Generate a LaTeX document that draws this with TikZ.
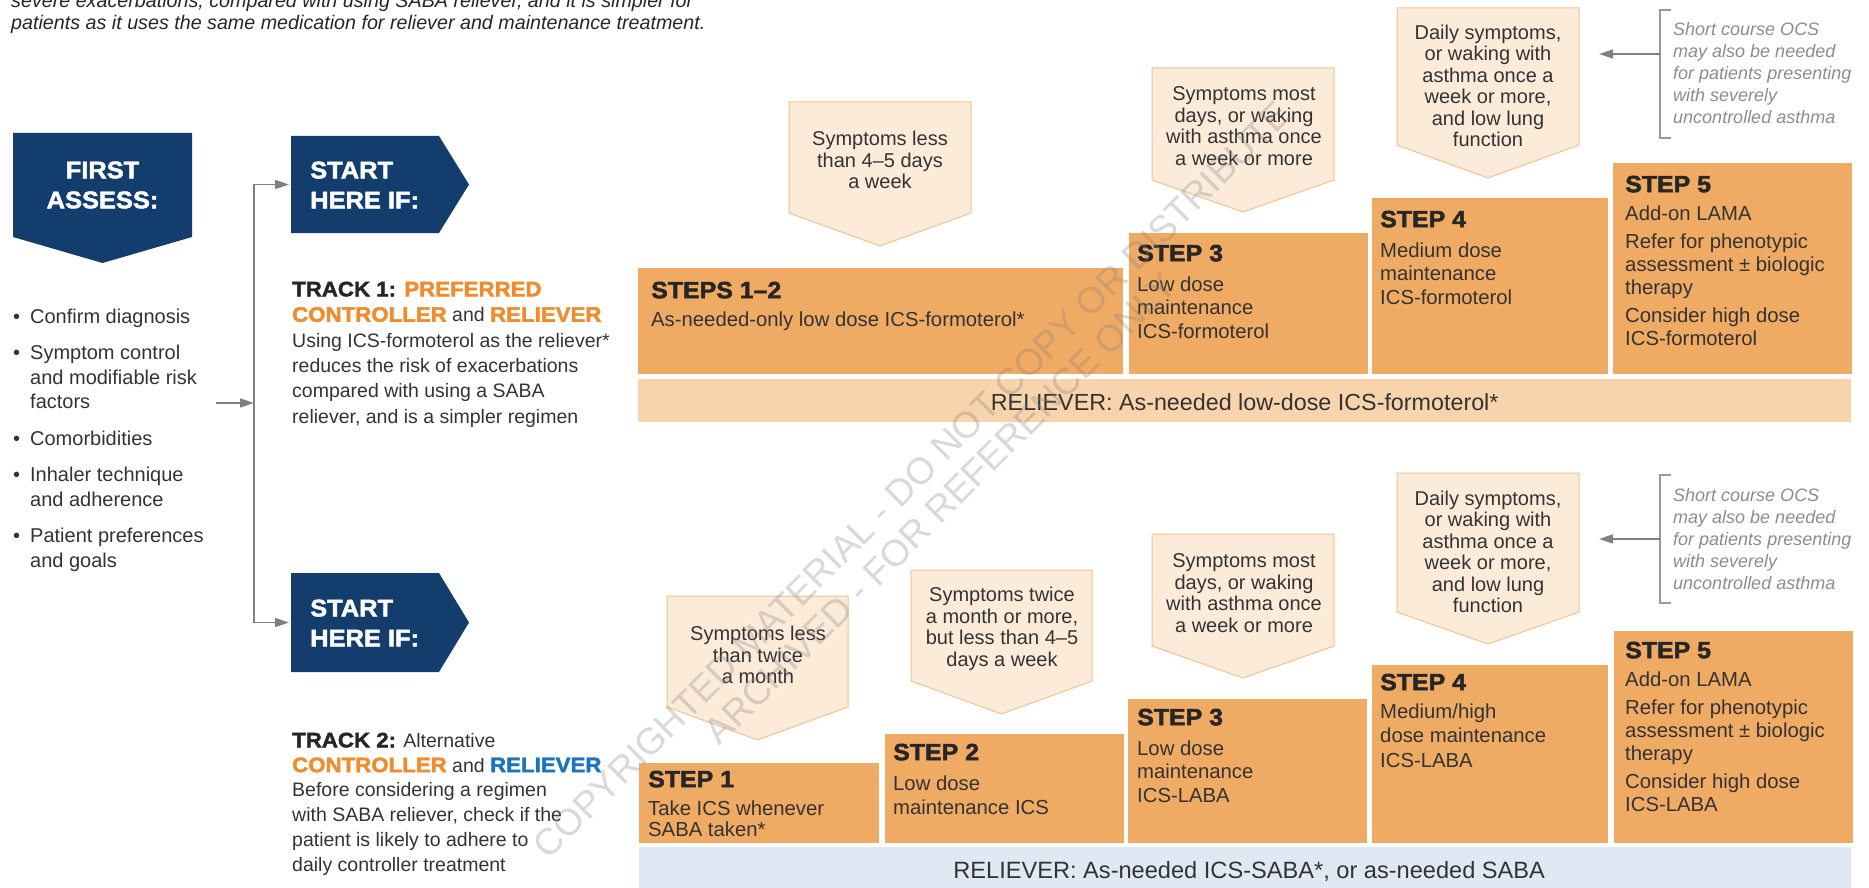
\documentclass[tikz,border=0pt]{standalone}
\usepackage{fontspec}
\setmainfont{Liberation Sans}
\newfontfamily\heavy{Liberation Sans}[UprightFont=* Bold, FakeStretch=1.06, FakeBold=2]
\usetikzlibrary{positioning}
\usetikzlibrary{arrows.meta}

\definecolor{navyblue}{HTML}{133D6D}
\definecolor{stepfill}{HTML}{EFAA63}
\definecolor{symfill}{HTML}{FDEBDA}
\definecolor{symedge}{HTML}{F2C28E}
\definecolor{relieverone}{HTML}{F8D4AC}
\definecolor{relievertwo}{HTML}{DEE9F4}
\definecolor{trackorange}{HTML}{EE8C2E}
\definecolor{trackblue}{HTML}{1C75BC}
\definecolor{bodytext}{HTML}{333333}
\definecolor{headtext}{HTML}{262626}
\definecolor{notegray}{HTML}{8C8C8C}
\definecolor{arrowgray}{HTML}{808080}

\tikzset{stepbox/.style={rectangle,fill=stepfill,inner sep=0pt,anchor=north west}}
\tikzset{steptitle/.style={anchor=north west,inner sep=0pt,text=headtext,
font=\heavy\fontsize{23.5}{28}\selectfont}}
\tikzset{steptext/.style={anchor=north west,inner sep=0pt,align=left,text=bodytext,
font=\fontsize{20.3}{23.5}\selectfont}}
\tikzset{symtext/.style={align=center,inner sep=0pt,text=bodytext,
font=\fontsize{20}{21.5}\selectfont}}
\tikzset{sympoly/.style={fill=symfill,draw=symedge,line width=1pt}}
\tikzset{relbar/.style={rectangle,inner sep=0pt,anchor=north west}}
\tikzset{reltext/.style={inner sep=0pt,text=bodytext,font=\fontsize{23.3}{26}\selectfont}}
\tikzset{navyhead/.style={inner sep=0pt,text=white,align=left,
font=\heavy\fontsize{24}{30}\selectfont}}
\tikzset{tracktext/.style={anchor=north west,inner sep=0pt,align=left,text=bodytext,
font=\fontsize{19.5}{25.4}\selectfont}}
\tikzset{listtext/.style={anchor=north west,inner sep=0pt,align=left,text=bodytext,
font=\fontsize{20}{24.5}\selectfont}}
\tikzset{notetext/.style={anchor=north west,inner sep=0pt,align=left,text=notegray,
font=\itshape\fontsize{18}{22}\selectfont}}
\tikzset{intro/.style={anchor=base west,inner sep=0pt,text=headtext,
font=\itshape\fontsize{19.7}{22}\selectfont}}
\tikzset{flow/.style={draw=arrowgray,line width=1.6pt,-{Triangle[length=14pt,width=9pt]}}}
\tikzset{bracket/.style={draw=arrowgray!80,line width=1.2pt}}
\tikzset{watermark/.style={align=center,inner sep=0pt,text=gray,text opacity=0.3,
font=\fontsize{37}{40}\selectfont}}

\newcommand{\symshape}[5]{\filldraw[sympoly] (#1,#3) -- (#2,#3) -- (#2,#4) -- ({(#1+#2)/2},#5) -- (#1,#4) -- cycle;}
\newcommand{\chkitem}{\makebox[17pt][l]{\textbullet}}
\newcommand{\chkindent}{\hspace*{17pt}}
\newcommand{\trackhead}[1]{{\heavy\fontsize{21}{25.4}\selectfont #1}}

\begin{document}
\begin{tikzpicture}[x=1pt,y=-1pt]
\useasboundingbox (0,0) rectangle (1869,888);

% note text above, cut at the top edge
\node[intro] (intro1) at (11,8) {severe exacerbations, compared with using SABA reliever, and it is simpler for};
\node[intro] (intro2) at (11,30) {patients as it uses the same medication for reliever and maintenance treatment.};

% first assess
\fill[navyblue] (13,133) -- (192,133) -- (192,237) -- (102.5,263) -- (13,237) -- cycle;
\node[navyhead,align=center] (assess) at (102.5,185) {FIRST\\ASSESS:};
\node[listtext] (checks) at (13,308.5) {\chkitem Confirm diagnosis\\[12pt]
\chkitem Symptom control\\
\chkindent and modifiable risk\\
\chkindent factors\\[12pt]
\chkitem Comorbidities\\[12pt]
\chkitem Inhaler technique\\
\chkindent and adherence\\[12pt]
\chkitem Patient preferences\\
\chkindent and goals};

% start here boxes
\fill[navyblue] (291,136) -- (439,136) -- (469,184.5) -- (439,233) -- (291,233) -- cycle;
\node[navyhead,anchor=west] (start1) at (310,185) {START\\HERE IF:};
\fill[navyblue] (291,573) -- (439,573) -- (469,622.5) -- (439,672) -- (291,672) -- cycle;
\node[navyhead,anchor=west] (start2) at (310,623) {START\\HERE IF:};

\coordinate (split) at (254,403);
\coordinate (start1in) at (289,184.5);
\coordinate (start2in) at (289,622.5);
\draw[flow,shorten <=12pt] (checks.east |- split) -- (split);
\draw[flow] (split) |- (start1in);
\draw[flow] (split) |- (start2in);

% track descriptions
\node[tracktext] (track1) at (292,281.5) {\trackhead{\color{headtext}TRACK 1: \color{trackorange}PREFERRED}\\
\trackhead{\color{trackorange}CONTROLLER} and \trackhead{\color{trackorange}RELIEVER}\\
Using ICS-formoterol as the reliever*\\
reduces the risk of exacerbations\\
compared with using a SABA\\
reliever, and is a simpler regimen};
\node[tracktext,font=\fontsize{19.5}{24.8}\selectfont] (track2) at (292,732.5) {\trackhead{\color{headtext}TRACK 2:} Alternative\\
\trackhead{\color{trackorange}CONTROLLER} and \trackhead{\color{trackblue}RELIEVER}\\
Before considering a regimen\\
with SABA reliever, check if the\\
patient is likely to adhere to\\
daily controller treatment};

% symptom arrows, track 1
\symshape{789}{971}{102}{213}{246}
\node[symtext] (sym12) at (880,160) {Symptoms less\\than 4–5 days\\a week};
\symshape{1152}{1334}{68}{180}{212}
\node[symtext] (sym3) at (1244,126) {Symptoms most\\days, or waking\\with asthma once\\a week or more};
\symshape{1397}{1579}{8}{145}{178}
\node[symtext] (sym4) at (1488,86) {Daily symptoms,\\or waking with\\asthma once a\\week or more,\\and low lung\\function};

% steps, track 1
\node[stepbox,minimum width=485pt,minimum height=106pt] (steps12) at (638,268) {};
\node[stepbox,anchor=south west,minimum width=239pt,minimum height=141pt] (step3) at ([xshift=5pt]steps12.south east) {};
\node[stepbox,anchor=south west,minimum width=236pt,minimum height=176pt] (step4) at ([xshift=4pt]step3.south east) {};
\node[stepbox,anchor=south west,minimum width=239pt,minimum height=211pt] (step5) at ([xshift=5pt]step4.south east) {};

\node[steptitle] (steps12t) at (651,281.6) {STEPS 1–2};
\node[steptext] (steps12b) at (651,311.5) {As-needed-only low dose ICS-formoterol*};
\node[steptitle] (step3t) at (1137,244.6) {STEP 3};
\node[steptext] (step3b) at (1137,276.5) {Low dose\\maintenance\\ICS-formoterol};
\node[steptitle] (step4t) at (1380,210.6) {STEP 4};
\node[steptext] (step4b) at (1380,242.5) {Medium dose\\maintenance\\ICS-formoterol};
\node[steptitle] (step5t) at (1625,175.6) {STEP 5};
\node[steptext,font=\fontsize{20.3}{23}\selectfont] (step5b) at (1625,205.5) {Add-on LAMA\\[5pt]
Refer for phenotypic\\assessment ± biologic\\therapy\\[5pt]
Consider high dose\\ICS-formoterol};

\node[relbar,fill=relieverone,minimum width=1213pt,minimum height=43pt] (rel1) at (638,379) {};
\node[reltext] (rel1t) at ([yshift=-1.5pt]rel1.center) {RELIEVER: As-needed low-dose ICS-formoterol*};

% short course note, track 1
\draw[bracket] (1671,10) -- (1660,10) -- (1660,138) -- (1671,138);
\node[notetext] (note1) at (1673,22.5) {Short course OCS\\may also be needed\\for patients presenting\\with severely\\uncontrolled asthma};
\coordinate (note1out) at (1660,54);
\coordinate (note1tip) at (1599,54);
\draw[flow] (note1out) -- (note1tip);

% symptom arrows, track 2
\symshape{667}{848}{596}{707}{740}
\node[symtext] (symB1) at (758,655) {Symptoms less\\than twice\\a month};
\symshape{911}{1092}{570}{681}{714}
\node[symtext] (symB2) at (1002,629) {Symptoms twice\\a month or more,\\but less than 4–5\\days a week};
\symshape{1152}{1334}{534}{646}{678}
\node[symtext] (symB3) at (1244,593) {Symptoms most\\days, or waking\\with asthma once\\a week or more};
\symshape{1397}{1579}{473}{612}{644}
\node[symtext] (symB4) at (1488,552) {Daily symptoms,\\or waking with\\asthma once a\\week or more,\\and low lung\\function};

% steps, track 2
\node[stepbox,minimum width=240pt,minimum height=80pt] (stepB1) at (639,763) {};
\node[stepbox,anchor=south west,minimum width=239pt,minimum height=109pt] (stepB2) at ([xshift=5pt]stepB1.south east) {};
\node[stepbox,anchor=south west,minimum width=239pt,minimum height=144pt] (stepB3) at ([xshift=4pt]stepB2.south east) {};
\node[stepbox,anchor=south west,minimum width=236pt,minimum height=178pt] (stepB4) at ([xshift=5pt]stepB3.south east) {};
\node[stepbox,anchor=south west,minimum width=239pt,minimum height=212pt] (stepB5) at ([xshift=5pt]stepB4.south east) {};

\node[steptitle] (stepB1t) at (648,770.6) {STEP 1};
\node[steptext,font=\fontsize{20.3}{21}\selectfont] (stepB1b) at (648,800.5) {Take ICS whenever\\SABA taken*};
\node[steptitle] (stepB2t) at (893,743.6) {STEP 2};
\node[steptext,font=\fontsize{20.3}{24}\selectfont] (stepB2b) at (893,775.5) {Low dose\\maintenance ICS};
\node[steptitle] (stepB3t) at (1137,708.6) {STEP 3};
\node[steptext] (stepB3b) at (1137,740.5) {Low dose\\maintenance\\ICS-LABA};
\node[steptitle] (stepB4t) at (1380,673.6) {STEP 4};
\node[steptext,font=\fontsize{20.3}{24.5}\selectfont] (stepB4b) at (1380,703.5) {Medium/high\\dose maintenance\\ICS-LABA};
\node[steptitle] (stepB5t) at (1625,641.6) {STEP 5};
\node[steptext,font=\fontsize{20.3}{23}\selectfont] (stepB5b) at (1625,671.5) {Add-on LAMA\\[5pt]
Refer for phenotypic\\assessment ± biologic\\therapy\\[5pt]
Consider high dose\\ICS-LABA};

\node[relbar,fill=relievertwo,minimum width=1212pt,minimum height=48pt] (rel2) at (639,847) {};
\node[reltext,font=\fontsize{23.6}{26}\selectfont] (rel2t) at ([xshift=4pt]rel2.center) {RELIEVER: As-needed ICS-SABA*, or as-needed SABA};

% short course note, track 2
\draw[bracket] (1671,475) -- (1660,475) -- (1660,603) -- (1671,603);
\node[notetext] (note2) at (1673,488.5) {Short course OCS\\may also be needed\\for patients presenting\\with severely\\uncontrolled asthma};
\coordinate (note2out) at (1660,539);
\coordinate (note2tip) at (1599,539);
\draw[flow] (note2out) -- (note2tip);

% watermark
\node[watermark,rotate=45] (wm) at (926,494) {COPYRIGHTED MATERIAL - DO NOT COPY OR DISTRIBUTE\\ARCHIVED - FOR REFERENCE ONLY};

\end{tikzpicture}
\end{document}
